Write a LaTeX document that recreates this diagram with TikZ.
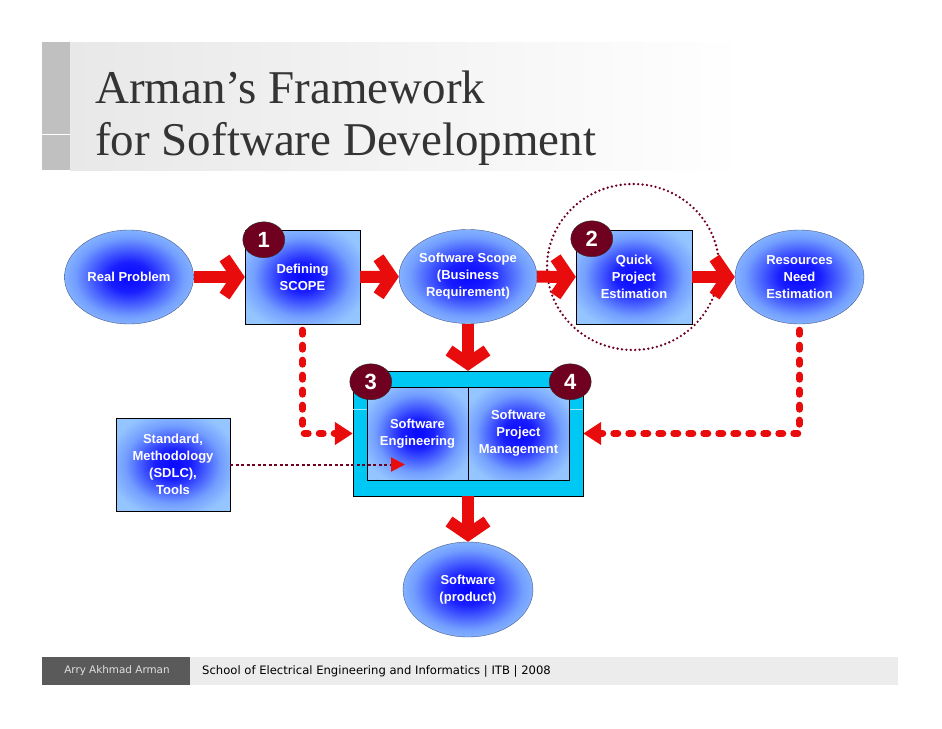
\documentclass[tikz,border=0pt]{standalone}
\usepackage{fontspec}
\setmainfont{Liberation Serif}
\setsansfont{Liberation Sans}
\newfontfamily\footfont{DejaVu Sans}
\usetikzlibrary{arrows.meta,shapes.geometric}

\definecolor{arrowred}{RGB}{232,12,12}
\definecolor{badgered}{RGB}{112,0,32}
\definecolor{framecyan}{RGB}{0,200,245}
\definecolor{titleink}{RGB}{52,52,52}
\definecolor{stripgray}{RGB}{192,192,192}
\definecolor{bandgray}{RGB}{232,232,232}
\definecolor{footdark}{RGB}{90,90,90}
\definecolor{footlight}{RGB}{236,236,236}
\definecolor{ellline}{RGB}{70,90,140}

\pgfdeclareradialshading{glow}{\pgfpoint{0bp}{0bp}}{rgb(0bp)=(0.03,0.03,1); rgb(8bp)=(0.1,0.12,1); rgb(21bp)=(0.45,0.62,1); rgb(29bp)=(0.58,0.77,1); rgb(50bp)=(0.62,0.8,1)}

\tikzset{
  nodetext/.style={text=white, align=center, font=\sffamily\bfseries\fontsize{13}{17}\selectfont},
  glowell/.style={ellipse, shading=glow, draw=ellline, inner sep=0pt,
    minimum width=129pt, minimum height=94pt, nodetext},
  glowbox/.style={rectangle, shading=glow, draw=black, inner sep=0pt,
    minimum width=115pt, minimum height=94pt, nodetext},
  badge/.style={ellipse, fill=badgered, draw=black!80, inner sep=0pt,
    minimum width=42pt, minimum height=36pt, text=white,
    font=\sffamily\bfseries\fontsize{22}{22}\selectfont},
  flow/.style={draw=arrowred, line width=12pt,
    -{Straight Barb[length=13pt,width=38pt]}},
  feed/.style={draw=arrowred, line width=7pt, line cap=round,
    dash pattern=on 4pt off 11pt, -{Triangle[length=18pt,width=22pt]}},
  hint/.style={draw=badgered, line width=2pt, dash pattern=on 3pt off 2.5pt,
    -{Triangle[length=14pt,width=14pt,color=arrowred]}},
}

\begin{document}
\begin{tikzpicture}[x=1pt,y=-1pt]
  \useasboundingbox (0,0) rectangle (942,728);

  % Title band
  \shade[left color=bandgray, right color=white] (70,42) rectangle (745,170);
  \fill[stripgray] (42,42) rectangle (70,170);
  \draw[white, line width=0.8pt] (42,134) -- (70,134);
  \node[anchor=base west, inner sep=0pt, text=titleink,
    font=\fontsize{47}{56}\selectfont] (title1) at (95,103) {Arman’s Framework};
  \node[anchor=base west, inner sep=0pt, text=titleink,
    font=\fontsize{47}{56}\selectfont] (title2) at (95,155) {for Software Development};

  % Top row
  \node[glowell] (real) at (129,277) {Real Problem};
  \node[glowbox] (defining) at (302.5,277) {Defining\\SCOPE};
  \node[glowell, minimum width=130pt] (swscope) at (468,276.5) {Software Scope\\(Business\\Requirement)};
  \node[glowbox, minimum width=116pt] (quick) at (634,277) {Quick\\Project\\Estimation};
  \node[glowell] (resources) at (799.5,277) {Resources\\Need\\Estimation};

  % Highlight round step 2
  \draw[badgered, line width=2.6pt, line cap=round, dash pattern=on 0pt off 4.4pt]
    (633,267) ellipse [x radius=86pt, y radius=83pt];

  % Core frame
  \node[rectangle, fill=framecyan, draw=black, minimum width=230pt,
    minimum height=125pt, inner sep=0pt] (frame) at (468,433.5) {};
  \draw[white!60!framecyan, line width=0.8pt] (frame.west |- 0,409) -- (frame.east |- 0,409);
  \node[glowbox, minimum width=101pt, minimum height=93pt] (sweng) at (417.5,433.5) {Software\\Engineering};
  \node[glowbox, minimum width=101pt, minimum height=93pt] (spm) at (518.5,433.5) {Software\\Project\\Management};

  \node[glowbox, minimum width=114pt, minimum height=93pt] (standard) at (173,464.5) {Standard,\\Methodology\\(SDLC),\\Tools};
  \node[glowell, minimum width=130pt, minimum height=95pt] (product) at (468,589.5) {Software\\(product)};

  % Badges
  \node[badge] (b1) at ([xshift=19pt,yshift=-10pt]defining.north west) {1};
  \node[badge] (b2) at ([xshift=16pt,yshift=-9pt]quick.north west) {2};
  \node[badge] (b3) at ([xshift=18pt,yshift=-11pt]frame.north west) {3};
  \node[badge] (b4) at ([xshift=-13pt,yshift=-11pt]frame.north east) {4};

  % Main flow
  \draw[flow] (real) -- (defining);
  \draw[flow] (defining) -- (swscope);
  \draw[flow] (swscope) -- (quick);
  \draw[flow] (quick) -- (resources);
  \draw[flow] (swscope.south) -- (swscope.south |- frame.north);
  \draw[flow] (frame.south -| product.north) -- (product.north);

  % Feedback into the frame
  \draw[feed] ([yshift=-6pt]defining.south) |- (frame.west);
  \draw[feed] ([yshift=-6pt]resources.south) |- (frame.east);

  % Method hint
  \coordinate (hintend) at (405,464.5);
  \draw[hint] (standard.east) -- (hintend);

  % Footer
  \fill[footdark] (42,657) rectangle (190,685);
  \fill[footlight] (190,657) rectangle (898,685);
  \node[text=white!88!black, font=\footfont\fontsize{10.4}{12}\selectfont] (author) at (117,671) {Arry Akhmad Arman};
  \node[anchor=west, inner sep=0pt, font=\footfont\fontsize{11.6}{13}\selectfont] (school) at (202,671)
    {School of Electrical Engineering and Informatics | ITB | 2008};
\end{tikzpicture}
\end{document}
